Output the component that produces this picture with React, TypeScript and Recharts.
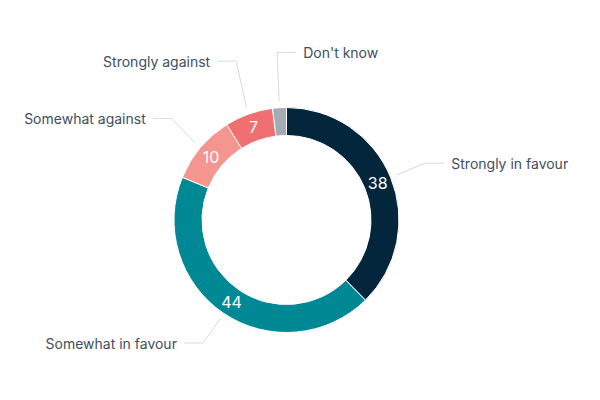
import React from "react";
import { PieChart, Pie, Cell } from "recharts";

const categories = ["Strongly in favour", "Somewhat in favour", "Somewhat against", "Strongly against", "Don't know"];
const values = [38, 44, 10, 7, 2];
const colors = ["#03263d", "#008995", "#f5958f", "#f07071", "#a1acb3"];

// label layout tweaks (pixel nudges for label placement, side of label)
const labelDy: Record<string, number> = {
  "Strongly in favour": 0,
  "Somewhat in favour": -1.5,
  "Somewhat against": -5,
  "Strongly against": -17.5,
  "Don't know": -18,
};
const labelSide: Record<string, number> = {
  "Strongly in favour": 1,
  "Somewhat in favour": -1,
  "Somewhat against": -1,
  "Strongly against": -1,
  "Don't know": 1,
};

const data = categories.map((name, i) => ({ name, value: values[i] }));

const RAD = Math.PI / 180;

const renderLabel = (props: any) => {
  const { cx, cy, midAngle, innerRadius, outerRadius, name, value } = props;
  const cos = Math.cos(-midAngle * RAD);
  const sin = Math.sin(-midAngle * RAD);
  const rMid = (innerRadius + outerRadius) / 2;
  const ix = cx + rMid * cos;
  const iy = cy + rMid * sin;
  const sx = cx + (outerRadius + 6.5) * cos;
  const sy = cy + (outerRadius + 6.5) * sin;
  const ex = cx + (outerRadius + 37.5) * cos;
  const ey = cy + (outerRadius + 37.5) * sin + (labelDy[name] || 0);
  const side = labelSide[name] || (ex >= cx ? 1 : -1);
  const hx = ex + side * 19;
  const tx = hx + side * 7;
  return (
    <g>
      {value > 2 && (
        <text
          x={ix}
          y={iy}
          fill="#ffffff"
          textAnchor="middle"
          dominantBaseline="central"
          fontSize={16}
          fontFamily="Inter, sans-serif"
        >
          {value}
        </text>
      )}
      <polyline
        points={`${sx},${sy} ${ex},${ey} ${hx},${ey}`}
        fill="none"
        stroke="#d3dbe3"
        strokeWidth={1}
      />
      <text
        x={tx}
        y={ey}
        fill="#414e60"
        textAnchor={side > 0 ? "start" : "end"}
        dominantBaseline="central"
        fontSize={14}
        fontFamily="Inter, sans-serif"
      >
        {name}
      </text>
    </g>
  );
};

export default function App() {
  return (
    <div style={{ position: "absolute", left: 0, top: 0, width: 600, height: 400, background: "#fff" }}>
      <PieChart width={600} height={400} margin={{ top: 0, right: 0, bottom: 0, left: 0 }}>
        <Pie
          data={data}
          dataKey="value"
          nameKey="name"
          cx={286.5}
          cy={220}
          innerRadius={84.5}
          outerRadius={112.5}
          startAngle={90}
          endAngle={-270}
          stroke="#ffffff"
          strokeWidth={1}
          label={renderLabel}
          labelLine={false}
          isAnimationActive={false}
        >
          {data.map((d, i) => (
            <Cell key={d.name} fill={colors[i]} />
          ))}
        </Pie>
      </PieChart>
    </div>
  );
}
